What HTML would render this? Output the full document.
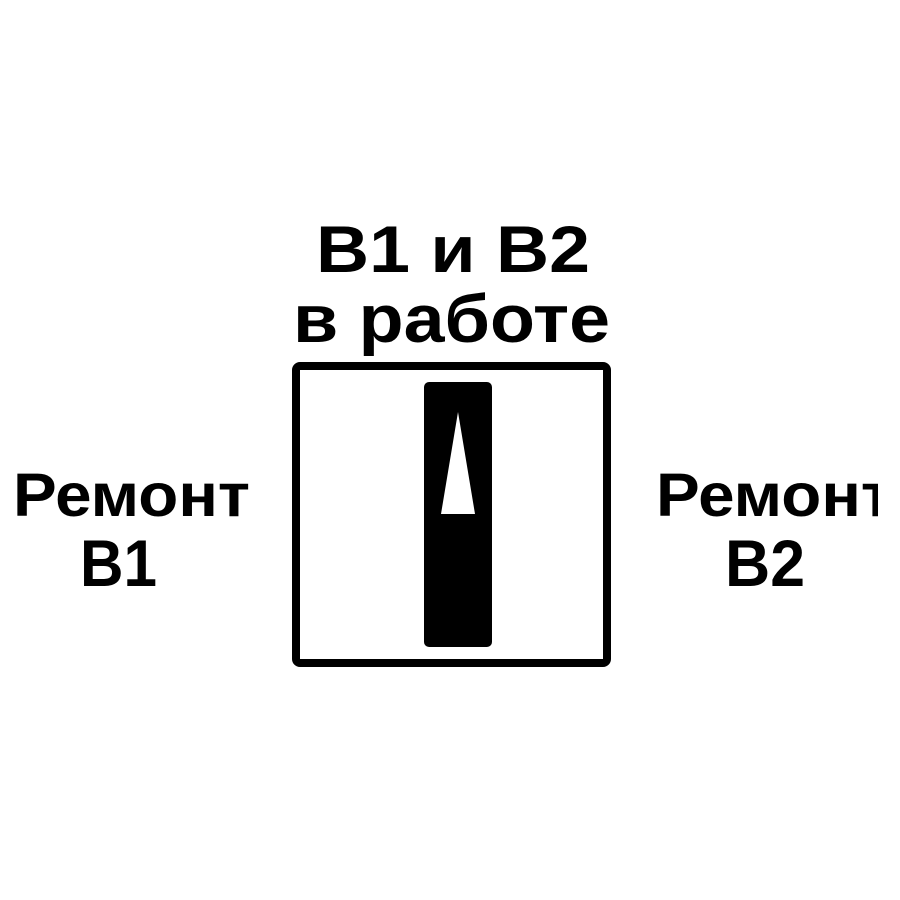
<!DOCTYPE html>
<html><head><meta charset="utf-8"><style>
html,body{margin:0;padding:0;background:#fff;}
svg{display:block;}
text{font-family:"Liberation Sans",Arial,sans-serif;font-weight:bold;fill:#000;}
</style></head><body>
<svg width="900" height="900" viewBox="0 0 900 900">
<defs><clipPath id="clipR"><rect x="0" y="0" width="878" height="900"/></clipPath></defs>
<text x="316" y="272" font-size="66" textLength="274" lengthAdjust="spacingAndGlyphs">B1 и B2</text>
<text x="293" y="342" font-size="68" textLength="317" lengthAdjust="spacingAndGlyphs">в работе</text>
<text x="13" y="516" font-size="61" textLength="237" lengthAdjust="spacingAndGlyphs">Ремонт</text>
<text x="80" y="586" font-size="66" textLength="77" lengthAdjust="spacingAndGlyphs">B1</text>
<g clip-path="url(#clipR)">
<text x="656" y="516" font-size="61" textLength="237" lengthAdjust="spacingAndGlyphs">Ремонт</text>
</g>
<text x="725" y="586" font-size="66" textLength="80" lengthAdjust="spacingAndGlyphs">B2</text>
<rect x="296" y="366" width="311" height="297" rx="4" fill="none" stroke="#000" stroke-width="8"/>
<rect x="424" y="382" width="68" height="265" rx="5" fill="#000"/>
<polygon points="458,412 441,514 475,514" fill="#fff"/>
</svg>
</body></html>
